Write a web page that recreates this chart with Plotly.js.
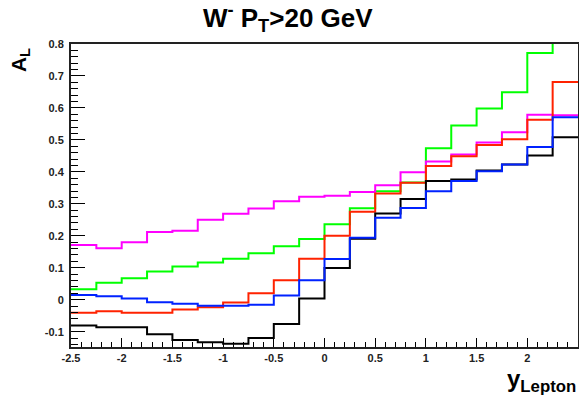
<!DOCTYPE html>
<html>
<head>
<meta charset="utf-8">
<script src="https://cdn.plot.ly/plotly-3.0.1.min.js"></script>
<style>html,body{margin:0;padding:0;background:#fff;}#chart{width:579px;height:407px;}</style>
</head>
<body>
<div id="chart"></div>
<script>
// Bin edges of y_Lepton (20 bins of 0.25)
const binEdges = [-2.5, -2.25, -2.0, -1.75, -1.5, -1.25, -1.0, -0.75, -0.5, -0.25,
                  0.0, 0.25, 0.5, 0.75, 1.0, 1.25, 1.5, 1.75, 2.0, 2.25, 2.5];

// A_L per bin for each curve
const greenVals   = [0.033, 0.053, 0.067, 0.088, 0.104, 0.116, 0.128, 0.145, 0.167, 0.190,
                     0.236, 0.286, 0.339, 0.367, 0.474, 0.545, 0.598, 0.649, 0.772, 0.900];
const magentaVals = [0.171, 0.161, 0.180, 0.212, 0.216, 0.250, 0.269, 0.285, 0.308, 0.322,
                     0.325, 0.337, 0.358, 0.399, 0.432, 0.454, 0.492, 0.524, 0.579, 0.577];
const redVals     = [-0.041, -0.036, -0.041, -0.041, -0.031, -0.024, -0.009, 0.020, 0.061, 0.128,
                     0.200, 0.275, 0.332, 0.366, 0.418, 0.449, 0.484, 0.502, 0.563, 0.681];
const blackVals   = [-0.081, -0.086, -0.086, -0.108, -0.126, -0.133, -0.138, -0.120, -0.076, 0.004,
                     0.099, 0.191, 0.270, 0.315, 0.371, 0.376, 0.404, 0.423, 0.451, 0.508];
const blueVals    = [0.015, 0.011, 0.004, -0.008, -0.013, -0.019, -0.019, -0.016, 0.013, 0.061,
                     0.127, 0.194, 0.256, 0.287, 0.339, 0.371, 0.402, 0.423, 0.478, 0.571];

// Tick labels
const xTickVals = [-2.5, -2, -1.5, -1, -0.5, 0, 0.5, 1, 1.5, 2, 2.5];
const xTickText = ['-2.5', '-2', '-1.5', '-1', '-0.5', '0', '0.5', '1', '1.5', '2', '2.5'];
const yTickVals = [-0.1, 0, 0.1, 0.2, 0.3, 0.4, 0.5, 0.6, 0.7, 0.8];
const yTickText = ['-0.1', '0', '0.1', '0.2', '0.3', '0.4', '0.5', '0.6', '0.7', '0.8'];

function histTrace(vals, color) {
  return {
    x: binEdges,
    y: vals.concat([vals[vals.length - 1]]),
    type: 'scatter',
    mode: 'lines',
    line: {shape: 'hv', color: color, width: 2},
    hoverinfo: 'skip',
    showlegend: false
  };
}

const data = [
  histTrace(greenVals, '#00ff00'),
  histTrace(magentaVals, '#ff00ff'),
  histTrace(redVals, '#ff2200'),
  histTrace(blackVals, '#000000'),
  histTrace(blueVals, '#0022ff')
];

const tickFont = {family: 'Liberation Sans, Arial, sans-serif', size: 11, color: '#222', weight: 'bold'};

const layout = {
  width: 579,
  height: 407,
  margin: {l: 71, r: 1, t: 44, b: 60},
  paper_bgcolor: '#ffffff',
  plot_bgcolor: '#ffffff',
  title: {
    text: 'W<sup>-</sup> P<sub>T</sub>&gt;20 GeV',
    font: {family: 'Liberation Sans, Arial, sans-serif', size: 26, color: '#000', weight: 'bold'},
    x: 0.497, xref: 'container', xanchor: 'center',
    y: 0.956, yref: 'container', yanchor: 'middle'
  },
  xaxis: {
    range: [-2.5, 2.5],
    tickmode: 'array', tickvals: xTickVals, ticktext: xTickText,
    ticks: 'inside', ticklen: 9, tickwidth: 1, tickcolor: '#000',
    minor: {tickmode: 'linear', tick0: -2.5, dtick: 0.1, ticks: 'inside', ticklen: 5, tickwidth: 1, tickcolor: '#000'},
    showline: true, linecolor: '#222', linewidth: 2, mirror: true,
    showgrid: false, zeroline: false,
    tickfont: tickFont
  },
  yaxis: {
    range: [-0.148, 0.8],
    tickmode: 'array', tickvals: yTickVals, ticktext: yTickText,
    ticks: 'inside', ticklen: 14, tickwidth: 1, tickcolor: '#000',
    minor: {tickmode: 'linear', tick0: 0, dtick: 0.02, ticks: 'inside', ticklen: 7, tickwidth: 1, tickcolor: '#000'},
    showline: true, linecolor: '#222', linewidth: 2, mirror: true,
    showgrid: false, zeroline: false,
    ticklabelstandoff: 3,
    tickfont: tickFont
  },
  annotations: [
    {
      text: 'A<sub>L</sub>',
      xref: 'paper', yref: 'paper',
      x: -0.1006, y: 0.947,
      xanchor: 'center', yanchor: 'middle',
      textangle: -90, showarrow: false,
      font: {family: 'Liberation Sans, Arial, sans-serif', size: 21, color: '#000', weight: 'bold'}
    },
    {
      text: 'y<sub>Lepton</sub>',
      xref: 'paper', yref: 'paper',
      x: 1.0, y: -0.052,
      xanchor: 'right', yanchor: 'top',
      showarrow: false,
      font: {family: 'Liberation Sans, Arial, sans-serif', size: 24, color: '#000', weight: 'bold'}
    }
  ]
};

Plotly.newPlot('chart', data, layout, {staticPlot: true, displayModeBar: false});
</script>
</body>
</html>
